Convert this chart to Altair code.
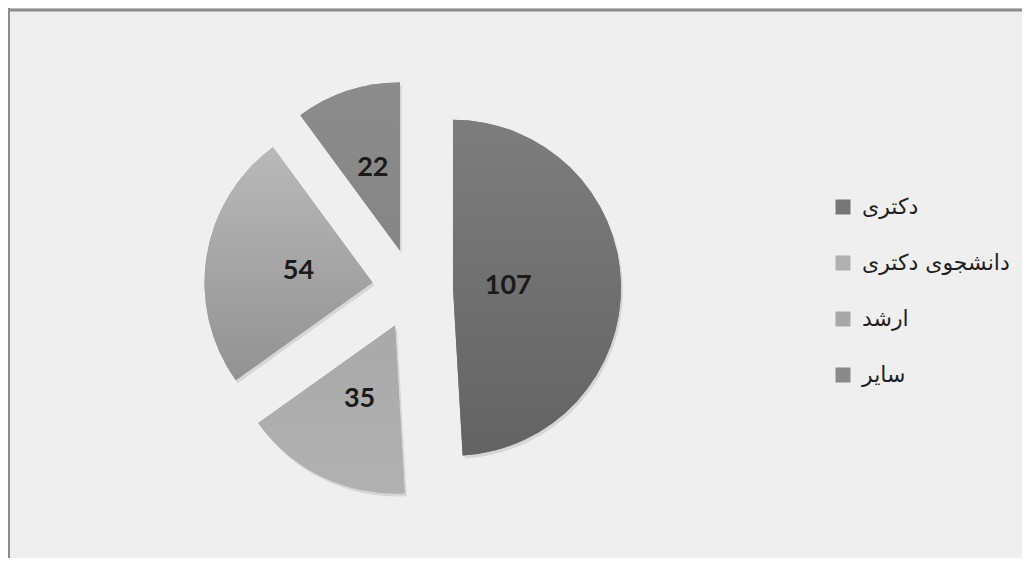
import altair as alt
import pandas as pd

categories = ["دکتری", "دانشجوی دکتری", "ارشد", "سایر"]
values = [107, 35, 54, 22]
legend_colors = ["#767676", "#b0b0b0", "#a8a8a8", "#8a8a8a"]
grad_top = ["#7d7d7d", "#a9a9a9", "#b9b9b9", "#8c8c8c"]
grad_bottom = ["#636363", "#b1b1b1", "#929292", "#858585"]

df = pd.DataFrame({"cat": categories, "value": values})

CX, CY, R, EXPLODE = 404.5, 281.0, 168, 40.5
W, H = 1014, 550

base = alt.Chart(df).transform_window(
    cum="sum(value)"
).transform_joinaggregate(
    total="sum(value)"
).transform_calculate(
    start="2*PI*(datum.cum - datum.value)/datum.total",
    end="2*PI*datum.cum/datum.total",
).transform_calculate(
    mid="(datum.start + datum.end)/2",
    halfdeg="(datum.end - datum.start)/2*180/PI",
).transform_calculate(
    px=f"{CX} + {EXPLODE}*sin(datum.mid)",
    py=f"{CY} - {EXPLODE}*cos(datum.mid)",
    lr="95 - 0.45*datum.halfdeg",
).transform_calculate(
    lx="datum.px + datum.lr*sin(datum.mid)",
    ly="datum.py - datum.lr*cos(datum.mid)",
)

pos = dict(
    x=alt.X("px:Q", scale=None, axis=None),
    y=alt.Y("py:Q", scale=None, axis=None),
    theta=alt.Theta("start:Q", scale=None),
    theta2="end:Q",
)

shadow = base.mark_arc(outerRadius=R, xOffset=2, yOffset=3, color="#000000", opacity=0.10).encode(**pos)

arcs = base.mark_arc(outerRadius=R).encode(
    **pos,
    color=alt.Color(
        "cat:N",
        scale=alt.Scale(domain=categories, range=legend_colors),
        legend=alt.Legend(
            title=None,
            orient="none",
            legendX=824,
            legendY=188,
            symbolType="square",
            symbolSize=225,
            symbolStrokeWidth=0,
            labelFont="DejaVu Sans",
            labelFontSize=22,
            labelColor="#1f1f1f",
            labelLimit=400,
            labelOffset=8,
            rowPadding=34,
            padding=0,
        ),
    ),
)

fill_rule = None
for c, t, b in zip(categories, grad_top, grad_bottom):
    g = {"gradient": "linear", "x1": 0, "y1": 0, "x2": 0, "y2": 1,
         "stops": [{"offset": 0, "color": t}, {"offset": 1, "color": b}]}
    cond = alt.datum.cat == c
    fill_rule = alt.when(cond).then(alt.value(g)) if fill_rule is None else fill_rule.when(cond).then(alt.value(g))
fill_rule = fill_rule.otherwise(alt.value("#888888"))

grad_arcs = base.mark_arc(outerRadius=R).encode(**pos, fill=fill_rule)

labels = base.mark_text(font="Lato", fontSize=27, fontWeight="bold", color="#1a1a1a",
                        align="center", baseline="middle").encode(
    x=alt.X("lx:Q", scale=None, axis=None),
    y=alt.Y("ly:Q", scale=None, axis=None),
    text="value:Q",
)

one = alt.Data(values=[{"a": 1}])
top_border = alt.Chart(one).mark_rule(color="#8c8c8c", strokeWidth=3).encode(
    x=alt.value(0), x2=alt.value(W), y=alt.value(2)
)
left_border = alt.Chart(one).mark_rule(color="#8c8c8c", strokeWidth=2).encode(
    x=alt.value(1), y=alt.value(0), y2=alt.value(H)
)

chart = alt.layer(shadow, arcs, grad_arcs, labels, top_border, left_border).properties(
    width=W, height=H, background="#efefef", padding=0,
    autosize=alt.AutoSizeParams(type="none"),
).configure_view(stroke=None)

chart.save("out.html", embed_options={"renderer": "svg", "actions": False})
